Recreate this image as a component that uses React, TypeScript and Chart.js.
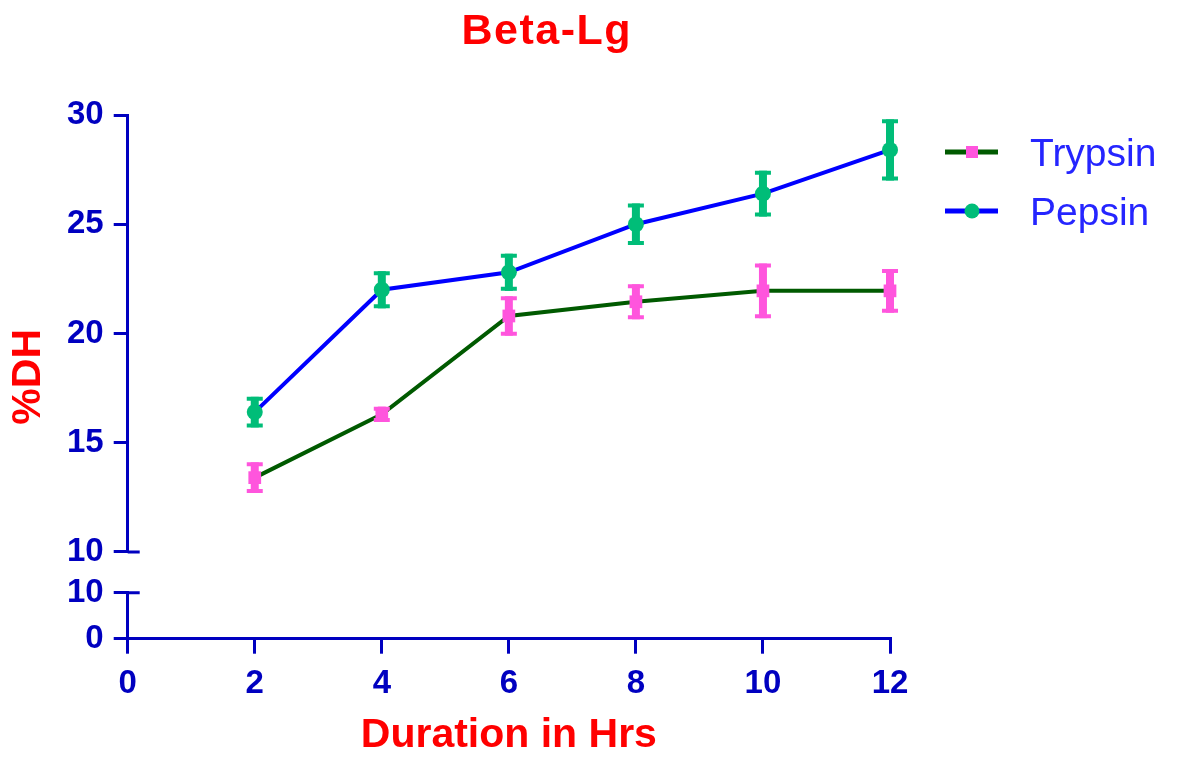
import React, { useEffect, useRef } from 'react';
import { Chart, registerables } from 'chart.js';

Chart.register(...registerables);

// ---- data ----
const hours = [2, 4, 6, 8, 10, 12];
const trypsin = [13.4, 16.3, 20.8, 21.45, 21.95, 21.95];
const trypsinErr = [0.7, 0.35, 0.9, 0.8, 1.25, 1.0];
const pepsin = [16.4, 22.0, 22.8, 25.0, 26.4, 28.4];
const pepsinErr = [0.7, 0.85, 0.85, 0.95, 1.05, 1.4];
const seriesLabels = ['Trypsin', 'Pepsin'];
const xTicks = [0, 2, 4, 6, 8, 10, 12];
const upperTicks = [10, 15, 20, 25, 30];
const lowerTicks = [0, 10];
const chartTitle = 'Beta-Lg';
const xTitle = 'Duration in Hrs';
const yTitle = '%DH';

// ---- styles ----
const FONT = "'Liberation Sans', Arial, sans-serif";
const AXIS = '#0000c0';
const RED = '#ff0000';
const LEGEND_TEXT = '#2525ff';
const TRYPSIN_LINE = '#005a00';
const TRYPSIN_MARK = '#ff55dd';
const PEPSIN_LINE = '#0000ff';
const PEPSIN_MARK = '#00bd78';

const tickFont = { family: FONT, size: 33, weight: 'bold' as const };

const errorBarPlugin = {
  id: 'errorBars',
  afterDatasetsDraw(chart: any) {
    const ctx = chart.ctx;
    chart.data.datasets.forEach((ds: any, i: number) => {
      const meta = chart.getDatasetMeta(i);
      const xs = chart.scales[meta.xAxisID];
      const ys = chart.scales[meta.yAxisID];
      ds.data.forEach((pt: any, j: number) => {
        const e = ds.errors[j];
        const x = xs.getPixelForValue(pt.x);
        const yt = ys.getPixelForValue(pt.y + e);
        const yb = ys.getPixelForValue(pt.y - e);
        ctx.save();
        ctx.strokeStyle = ds.pointBackgroundColor;
        ctx.lineWidth = 8;
        ctx.beginPath();
        ctx.moveTo(x, yt);
        ctx.lineTo(x, yb);
        ctx.stroke();
        ctx.lineWidth = 4;
        ctx.beginPath();
        ctx.moveTo(x - 8, yt + 2);
        ctx.lineTo(x + 8, yt + 2);
        ctx.moveTo(x - 8, yb - 2);
        ctx.lineTo(x + 8, yb - 2);
        ctx.stroke();
        ctx.restore();
      });
    });
  },
};

const decorPlugin = {
  id: 'decor',
  afterDraw(chart: any) {
    const { ctx, chartArea } = chart;
    ctx.save();
    // title
    ctx.fillStyle = RED;
    ctx.font = `bold 43px ${FONT}`;
    ctx.textAlign = 'center';
    ctx.textBaseline = 'alphabetic';
    try { (ctx as any).letterSpacing = '1.5px'; } catch (e) {}
    ctx.fillText(chartTitle, chartArea.left + 419, 36);
    try { (ctx as any).letterSpacing = '0px'; } catch (e) {}

    // axis break stubs
    const yU = chart.scales.y;
    const yL = chart.scales.yLow;
    ctx.strokeStyle = AXIS;
    ctx.lineWidth = 3;
    ctx.beginPath();
    const yb = yU.getPixelForValue(10);
    const yt = yL.getPixelForValue(10);
    ctx.moveTo(chartArea.left, yb);
    ctx.lineTo(chartArea.left + 12, yb);
    ctx.moveTo(chartArea.left, yt);
    ctx.lineTo(chartArea.left + 12, yt);
    ctx.stroke();

    // legend
    chart.data.datasets.forEach((ds: any, i: number) => {
      const y = chartArea.top + 37 + i * 59;
      const x0 = chartArea.right + 55;
      ctx.strokeStyle = ds.borderColor;
      ctx.lineWidth = 5;
      ctx.beginPath();
      ctx.moveTo(x0, y);
      ctx.lineTo(x0 + 53, y);
      ctx.stroke();
      ctx.fillStyle = ds.pointBackgroundColor;
      const cx = x0 + 27;
      if (ds.pointStyle === 'rect') {
        ctx.fillRect(cx - 6, y - 6, 12, 12);
      } else {
        ctx.beginPath();
        ctx.arc(cx, y, 7.5, 0, Math.PI * 2);
        ctx.fill();
      }
      ctx.fillStyle = LEGEND_TEXT;
      ctx.font = `39px ${FONT}`;
      ctx.textAlign = 'left';
      ctx.textBaseline = 'alphabetic';
      ctx.fillText(ds.label, x0 + 85, y + 14);
    });
    ctx.restore();
  },
};

export default function App() {
  const ref = useRef<HTMLCanvasElement | null>(null);

  useEffect(() => {
    if (!ref.current) return;
    const mk = (xs: number[], ys: number[]) => xs.map((x, i) => ({ x, y: ys[i] }));
    const axisGrid = (len: number) => ({
      drawOnChartArea: false,
      drawTicks: true,
      tickLength: len,
      color: AXIS,
      lineWidth: 3,
    });
    const border = { display: true, color: AXIS, width: 3 };

    const chart = new Chart(ref.current, {
      type: 'line',
      data: {
        datasets: [
          {
            label: seriesLabels[0],
            data: mk(hours, trypsin),
            errors: trypsinErr,
            yAxisID: 'y',
            xAxisID: 'x',
            borderColor: TRYPSIN_LINE,
            borderWidth: 4,
            pointStyle: 'rect',
            pointRadius: 9,
            pointBackgroundColor: TRYPSIN_MARK,
            pointBorderWidth: 0,
            tension: 0,
            clip: false,
          } as any,
          {
            label: seriesLabels[1],
            data: mk(hours, pepsin),
            errors: pepsinErr,
            yAxisID: 'y',
            xAxisID: 'x',
            borderColor: PEPSIN_LINE,
            borderWidth: 4,
            pointStyle: 'circle',
            pointRadius: 8,
            pointBackgroundColor: PEPSIN_MARK,
            pointBorderWidth: 0,
            tension: 0,
            clip: false,
          } as any,
        ],
      },
      options: {
        animation: false,
        responsive: true,
        maintainAspectRatio: false,
        events: [],
        layout: { padding: { top: 107, right: 281, left: 0, bottom: 0 } },
        plugins: {
          legend: { display: false },
          title: { display: false },
          tooltip: { enabled: false },
        },
        scales: {
          x: {
            type: 'linear',
            position: 'bottom',
            min: 0,
            max: 12,
            afterBuildTicks: (s: any) => {
              s.ticks = xTicks.map((v) => ({ value: v }));
            },
            grid: axisGrid(15),
            border,
            ticks: { color: AXIS, font: tickFont, padding: 10, maxRotation: 0, autoSkip: false },
            title: {
              display: true,
              text: xTitle,
              color: RED,
              font: { family: FONT, size: 41, weight: 'bold', lineHeight: 0.7 },
              padding: { top: 8, bottom: 0 },
            },
          },
          yLabel: {
            type: 'linear',
            position: 'left',
            weight: 10,
            grid: { display: false, drawTicks: false },
            border: { display: false },
            ticks: { display: false },
            title: {
              display: true,
              text: yTitle,
              color: RED,
              font: { family: FONT, size: 41, weight: 'bold', lineHeight: 1 },
              padding: { top: 0, bottom: 8 },
            },
          },
          y: {
            type: 'linear',
            position: 'left',
            stack: 'dh',
            stackWeight: 438,
            weight: 3,
            min: 10,
            max: 30,
            afterBuildTicks: (s: any) => {
              s.ticks = upperTicks.map((v) => ({ value: v }));
            },
            grid: axisGrid(14),
            border,
            ticks: { color: AXIS, font: tickFont, padding: 10, autoSkip: false },
          },
          yGap: {
            type: 'linear',
            position: 'left',
            stack: 'dh',
            stackWeight: 41,
            weight: 2,
            display: false,
          },
          yLow: {
            type: 'linear',
            position: 'left',
            stack: 'dh',
            stackWeight: 46,
            weight: 1,
            min: 0,
            max: 10,
            afterBuildTicks: (s: any) => {
              s.ticks = lowerTicks.map((v) => ({ value: v }));
            },
            grid: axisGrid(14),
            border,
            ticks: { color: AXIS, font: tickFont, padding: 10, autoSkip: false },
          },
        } as any,
      },
      plugins: [errorBarPlugin, decorPlugin],
    });
    return () => chart.destroy();
  }, []);

  return (
    <div style={{ position: 'relative', width: '100%', height: '742px' }}>
      <canvas ref={ref} />
    </div>
  );
}
